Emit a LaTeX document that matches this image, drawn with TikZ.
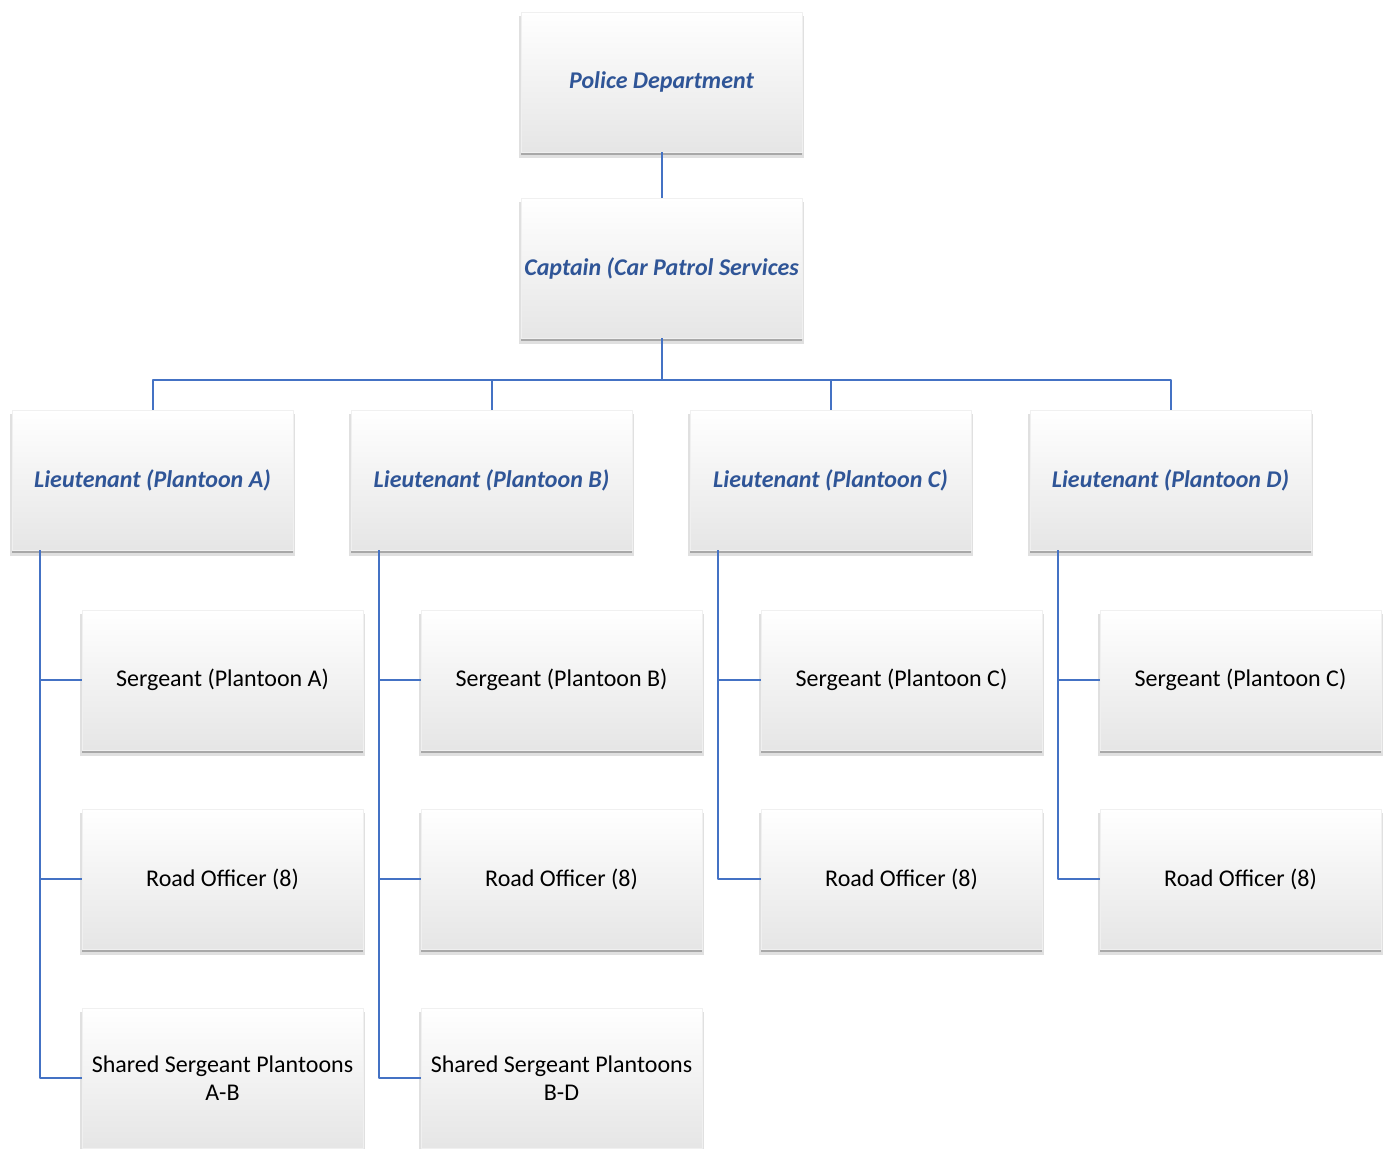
\documentclass[tikz,border=0pt]{standalone}
\usepackage{fontspec}
\setmainfont{Carlito}
\usepackage{xcolor}
\usetikzlibrary{shadows}

\definecolor{linkblue}{HTML}{4472C4}
\definecolor{headblue}{HTML}{2F5597}

\tikzset{
  orgbox/.style={rectangle,minimum width=140.5pt,minimum height=70pt,inner sep=0pt,
    align=center,font=\fontsize{12}{14}\selectfont,draw=black!6,
    top color=white,middle color=white,bottom color=black!10,
    general shadow={shadow xshift=0pt,shadow yshift=-2.5pt,shadow scale=1.012,fill=black,opacity=0.12},
    general shadow={shadow xshift=0pt,shadow yshift=-1.5pt,fill=black,opacity=0.25}},
  headbox/.style={orgbox,text=headblue,font=\fontsize{12}{14}\selectfont\bfseries\itshape},
  link/.style={linkblue,line width=1pt}
}

\begin{document}
\begin{tikzpicture}[x=0.5pt,y=-0.5pt,line join=round]
  \useasboundingbox (0,0) rectangle (1390,1148);
  % top levels
  \node[headbox] (PD) at (661.5,82) {Police Department};
  \node[headbox] (Cap) at (661.5,268) {Captain (Car Patrol Services};
  % lieutenants
  \node[headbox] (LtA) at (152.5,480) {Lieutenant (Plantoon A)};
  \node[headbox] (LtB) at (491.5,480) {Lieutenant (Plantoon B)};
  \node[headbox] (LtC) at (830.5,480) {Lieutenant (Plantoon C)};
  \node[headbox] (LtD) at (1170.5,480) {Lieutenant (Plantoon D)};
  % sergeants
  \node[orgbox] (SgA) at (222.5,680) {Sergeant (Plantoon A)};
  \node[orgbox] (SgB) at (561.5,680) {Sergeant (Plantoon B)};
  \node[orgbox] (SgC) at (901.5,680) {Sergeant (Plantoon C)};
  \node[orgbox] (SgD) at (1240.5,680) {Sergeant (Plantoon C)};
  % road officers
  \node[orgbox] (RoA) at (222.5,879) {Road Officer (8)};
  \node[orgbox] (RoB) at (561.5,879) {Road Officer (8)};
  \node[orgbox] (RoC) at (901.5,879) {Road Officer (8)};
  \node[orgbox] (RoD) at (1240.5,879) {Road Officer (8)};
  % shared sergeants
  \node[orgbox] (ShA) at (222.5,1078) {Shared Sergeant Plantoons\\A-B};
  \node[orgbox] (ShB) at (561.5,1078) {Shared Sergeant Plantoons\\B-D};
  % connectors
  \coordinate (Bus) at (661.5,380);
  \draw[link] (PD.south) -- (Cap.north);
  \draw[link] (Cap.south) -- (Bus);
  \draw[link] (Bus) -| (LtA.north);
  \draw[link] (Bus) -| (LtB.north);
  \draw[link] (Bus) -| (LtC.north);
  \draw[link] (Bus) -| (LtD.north);
  \draw[link] ([xshift=14pt]LtA.south west) |- (ShA.west);
  \draw[link] ([xshift=14pt]LtA.south west) |- (SgA.west);
  \draw[link] ([xshift=14pt]LtA.south west) |- (RoA.west);
  \draw[link] ([xshift=14pt]LtB.south west) |- (ShB.west);
  \draw[link] ([xshift=14pt]LtB.south west) |- (SgB.west);
  \draw[link] ([xshift=14pt]LtB.south west) |- (RoB.west);
  \draw[link] ([xshift=14pt]LtC.south west) |- (RoC.west);
  \draw[link] ([xshift=14pt]LtC.south west) |- (SgC.west);
  \draw[link] ([xshift=14pt]LtD.south west) |- (RoD.west);
  \draw[link] ([xshift=14pt]LtD.south west) |- (SgD.west);
\end{tikzpicture}
\end{document}
